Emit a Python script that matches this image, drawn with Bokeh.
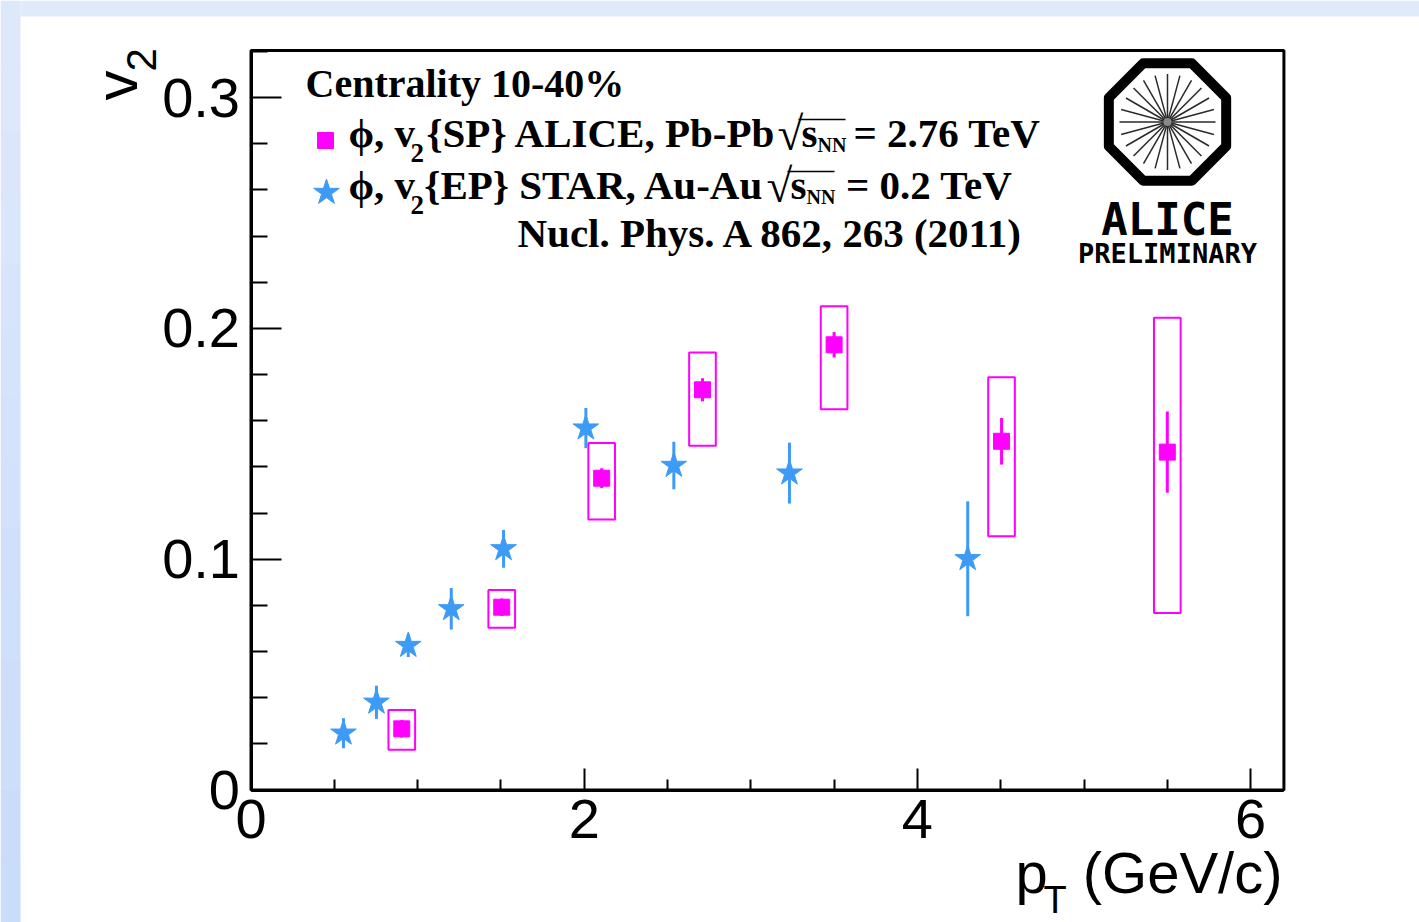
import numpy as np
from bokeh.plotting import figure
from bokeh.models import Range1d, FixedTicker, Label, ColumnDataSource
from bokeh.embed import file_html
from bokeh.resources import INLINE

# ---------------- data ----------------
alice_pt = [0.905, 1.505, 2.105, 2.71, 3.50, 4.505, 5.50]
alice_v2 = [0.0265, 0.0792, 0.1351, 0.1734, 0.1929, 0.1511, 0.1464]
alice_stat = [0.0038, 0.0038, 0.0043, 0.0050, 0.0055, 0.0101, 0.0176]
alice_sys_hi = [0.0082, 0.0075, 0.0152, 0.0162, 0.0167, 0.0277, 0.0582]
alice_sys_lo = [0.0091, 0.0089, 0.0179, 0.0242, 0.0279, 0.0412, 0.0697]
alice_box_halfwidth = 0.08

star_pt = [0.555, 0.753, 0.944, 1.202, 1.516, 2.010, 2.538, 3.232, 4.302]
star_v2 = [0.0246, 0.0380, 0.0626, 0.0785, 0.1045, 0.1568, 0.1406, 0.1373, 0.1002]
star_err = [0.0065, 0.0072, 0.0050, 0.0090, 0.0082, 0.0087, 0.0103, 0.0132, 0.0249]

x_major = [0, 2, 4, 6]
x_minor = [0.5, 1, 1.5, 2.5, 3, 3.5, 4.5, 5, 5.5]
x_labels = {0: "0", 2: "2", 4: "4", 6: "6"}
y_major = [0.0, 0.1, 0.2, 0.3]
y_minor = [0.02, 0.04, 0.06, 0.08, 0.12, 0.14, 0.16, 0.18, 0.22, 0.24, 0.26, 0.28, 0.32]
y_labels = {0.0: "0", 0.1: "0.1", 0.2: "0.2", 0.3: "0.3"}

XMAX, YMAX = 6.2, 0.3204

MAGENTA = "#ff00ff"
BLUE = "#3d9bf5"

W, H = 1419, 922

# page-pixel -> data helpers (used for text / decoration placement only)
def dx(px):
    return (px - 250.5) / 166.6

def dy(py):
    return (789.5 - py) / 2308.0

# ---------------- figure: frame covers the whole canvas ----------------
p = figure(width=W, height=H, x_range=Range1d(dx(0), dx(W)), y_range=Range1d(dy(H), dy(0)),
           output_backend="svg", toolbar_location=None, min_border=0,
           background_fill_color="white", border_fill_color="white",
           outline_line_color=None)
p.xgrid.visible = False
p.ygrid.visible = False

# light-blue page border (left strip with slight gradient, top strip)
nb = 14
top_c = np.array([0xdf, 0xe9, 0xfb], dtype=float)
bot_c = np.array([0xc8, 0xdb, 0xfa], dtype=float)
band_edges = np.linspace(0, H, nb + 1)
band_cols = ["#%02x%02x%02x" % tuple(int(round(v)) for v in top_c + (bot_c - top_c) * (i + 0.5) / nb)
             for i in range(nb)]
p.quad(left=[dx(0)] * nb, right=[dx(20)] * nb,
       top=[dy(e) for e in band_edges[:-1]], bottom=[dy(e + 1) for e in band_edges[1:]],
       fill_color=band_cols, line_color=None)
p.quad(left=[dx(20)], right=[dx(W)], top=[dy(0)], bottom=[dy(16)],
       fill_color="#e0eafb", line_color=None)

# frame box of the data area
p.quad(left=[0], right=[XMAX], bottom=[0], top=[YMAX], fill_alpha=0,
       line_color="black", line_width=3)

for ax in (p.xaxis[0], p.yaxis[0]):
    ax.fixed_location = 0
    ax.axis_line_width = 3
    ax.axis_line_color = "black"
    ax.major_tick_line_width = 2
    ax.minor_tick_line_width = 2
    ax.major_tick_out = 0
    ax.minor_tick_out = 0
    ax.major_label_text_font = "Liberation Sans"
    ax.major_label_text_font_size = "56px"
    ax.major_label_text_color = "black"

p.xaxis.bounds = (0, XMAX)
p.xaxis.ticker = FixedTicker(ticks=x_major, minor_ticks=x_minor)
p.xaxis.major_label_overrides = x_labels
p.xaxis.major_tick_in = 22
p.xaxis.minor_tick_in = 11
p.xaxis.major_label_standoff = 10

p.yaxis.bounds = (0, YMAX)
p.yaxis.ticker = FixedTicker(ticks=y_major, minor_ticks=y_minor)
p.yaxis.major_label_overrides = y_labels
p.yaxis.major_tick_in = 30
p.yaxis.minor_tick_in = 16
p.yaxis.major_label_standoff = 11

# ---------------- data marks ----------------
a = ColumnDataSource(dict(
    x=alice_pt, y=alice_v2,
    left=[v - alice_box_halfwidth for v in alice_pt],
    right=[v + alice_box_halfwidth for v in alice_pt],
    top=[v + e for v, e in zip(alice_v2, alice_sys_hi)],
    bottom=[v - e for v, e in zip(alice_v2, alice_sys_lo)],
    ylo=[v - e for v, e in zip(alice_v2, alice_stat)],
    yhi=[v + e for v, e in zip(alice_v2, alice_stat)],
))
p.quad(left="left", right="right", top="top", bottom="bottom", source=a,
       fill_alpha=0, line_color=MAGENTA, line_width=2)
p.segment(x0="x", x1="x", y0="ylo", y1="yhi", source=a, line_color=MAGENTA, line_width=3)
p.scatter(x="x", y="y", source=a, marker="square", size=16, fill_color=MAGENTA, line_color=MAGENTA)

s = ColumnDataSource(dict(
    x=star_pt, y=star_v2,
    ylo=[v - e for v, e in zip(star_v2, star_err)],
    yhi=[v + e for v, e in zip(star_v2, star_err)],
))
p.segment(x0="x", x1="x", y0="ylo", y1="yhi", source=s, line_color=BLUE, line_width=3)
p.scatter(x="x", y="y", source=s, marker="star", size=27, fill_color=BLUE, line_color=BLUE)

# ---------------- texts ----------------
SHIFT = 0.36  # baseline correction (fraction of font size)

def lab(text, px, py, size, font="Liberation Serif", style="bold", align="left",
        angle=0.0):
    if angle == 0.0:
        py = py - SHIFT * size
    else:
        px = px - SHIFT * size
    p.add_layout(Label(x=dx(px), y=dy(py), text=text, text_font=font,
                       text_font_size=f"{size}px", text_font_style=style,
                       text_align=align, text_baseline="alphabetic", angle=angle,
                       text_color="black"))

# axis titles
lab("v", 138, 100, 60, font="Liberation Sans", style="normal", angle=np.pi / 2)
lab("2", 156, 71, 42, font="Liberation Sans", style="normal", angle=np.pi / 2)
lab("p", 1015, 893, 58, font="Liberation Sans", style="normal")
lab("T", 1043, 913, 38, font="Liberation Sans", style="normal")
lab("(GeV/c)", 1282, 893, 58, font="Liberation Sans", style="normal", align="right")

# legend block
lab("Centrality 10-40%", 305, 97, 40)

p.scatter(x=[dx(325)], y=[dy(140)], marker="square", size=16, fill_color=MAGENTA, line_color=MAGENTA)
lab("\u03d5, v", 348, 147, 41)
lab("2", 410, 162, 27)
lab("{SP} ALICE, Pb-Pb", 776, 147, 41, align="right")
lab("\u221a", 777, 150, 47)
lab("s", 801, 147, 41)
lab("NN", 817, 152, 20)
lab("= 2.76 TeV", 1040, 147, 41, align="right")
p.segment(x0=[dx(798)], x1=[dx(845)], y0=[dy(119)], y1=[dy(119)], line_color="black", line_width=1.5)

p.scatter(x=[dx(326)], y=[dy(192)], marker="star", size=27, fill_color=BLUE, line_color=BLUE)
lab("\u03d5, v", 348, 199, 41)
lab("2", 410, 214, 27)
lab("{EP} STAR, Au-Au", 764, 199, 41, align="right")
lab("\u221a", 766, 202, 47)
lab("s", 790, 199, 41)
lab("NN", 806, 204, 20)
lab("= 0.2 TeV", 1012, 199, 41, align="right")
p.segment(x0=[dx(787)], x1=[dx(834)], y0=[dy(171)], y1=[dy(171)], line_color="black", line_width=1.5)

lab("Nucl. Phys. A 862, 263 (2011)", 517, 247, 41)

# ---------------- ALICE logo ----------------
cx, cy, R = 1167.0, 121.5, 63.5
ang = np.deg2rad(22.5 + 45.0 * np.arange(8))
p.patch([dx(cx + R * np.cos(t)) for t in ang], [dy(cy - R * np.sin(t)) for t in ang],
        fill_alpha=0, line_color="black", line_width=10, line_join="round")
sp = np.deg2rad(15.0 * np.arange(12))
L = 48.0
p.multi_line([[dx(cx - L * np.cos(t)), dx(cx + L * np.cos(t))] for t in sp],
             [[dy(cy + L * np.sin(t)), dy(cy - L * np.sin(t))] for t in sp],
             line_color="#2a2a2a", line_width=1.5)
p.scatter(x=[dx(cx)], y=[dy(cy)], marker="circle", size=8, fill_color="#888888", line_color=None)
lab("ALICE", 1167, 235, 44, font="DejaVu Sans Mono", style="bold", align="center")
lab("PRELIMINARY", 1167, 263, 27, font="DejaVu Sans Mono", style="bold", align="center")

open("out.html", "w").write(file_html(p, INLINE))
